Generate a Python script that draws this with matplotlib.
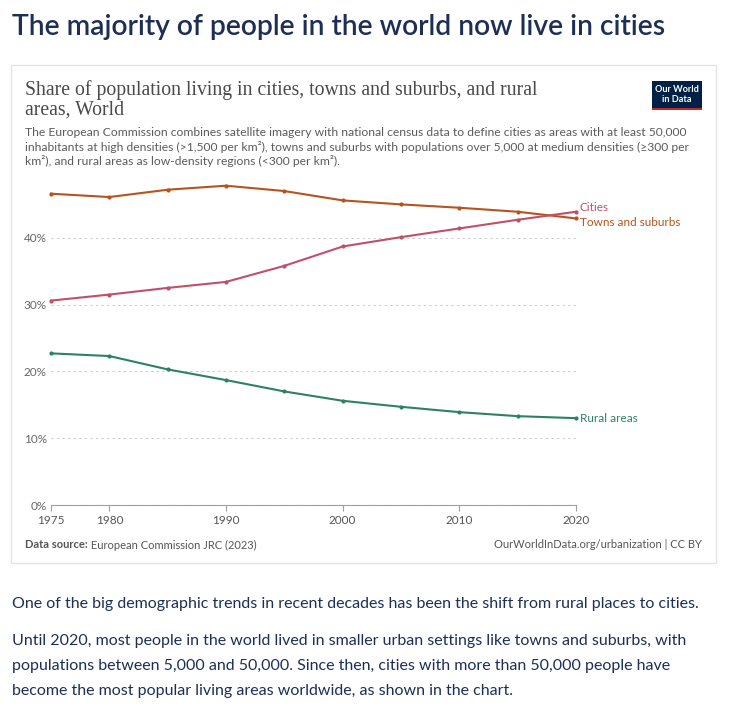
import matplotlib.pyplot as plt
from matplotlib.patches import Rectangle
from matplotlib.ticker import FuncFormatter

years = [1975, 1980, 1985, 1990, 1995, 2000, 2005, 2010, 2015, 2020]
towns = [46.6, 46.1, 47.2, 47.8, 47.0, 45.6, 45.0, 44.5, 43.9, 42.9]
cities = [30.6, 31.5, 32.5, 33.4, 35.8, 38.7, 40.1, 41.4, 42.7, 43.9]
rural = [22.7, 22.3, 20.3, 18.7, 17.0, 15.6, 14.7, 13.9, 13.3, 13.0]

xticks = [1975, 1980, 1990, 2000, 2010, 2020]
yticks = [0, 10, 20, 30, 40]

plt.rcParams['font.family'] = ['Lato', 'DejaVu Sans']

W, H = 732, 714
fig = plt.figure(figsize=(W / 100, H / 100), dpi=100)


def px(x, y):
    return x / W, 1 - y / H


navy = "#1d2f55"
grey = "#5b5b5b"
c_towns = "#b5541c"
c_cities = "#c0506a"
c_rural = "#2d8165"

# page title
fig.text(*px(12, 27), "The majority of people in the world now live in cities",
         fontsize=20.3, color=navy, va="center", ha="left", weight="semibold")

# chart frame
fig.patches.append(Rectangle(px(11, 563), 705 / W, 498 / H, transform=fig.transFigure,
                             fill=False, edgecolor="#e4e4e4", lw=1))

fig.text(*px(25, 90), "Share of population living in cities, towns and suburbs, and rural",
         fontsize=14.2, family="Liberation Serif", color="#4a4a4a", va="center")
fig.text(*px(25, 110), "areas, World",
         fontsize=14.2, family="Liberation Serif", color="#4a4a4a", va="center")
fig.text(*px(25, 133),
         "The European Commission combines satellite imagery with national census data to define cities as areas with at least 50,000",
         fontsize=8.7, color=grey, va="center")
fig.text(*px(25, 147),
         "inhabitants at high densities (>1,500 per km²), towns and suburbs with populations over 5,000 at medium densities (≥300 per",
         fontsize=8.7, color=grey, va="center")
fig.text(*px(25, 161),
         "km²), and rural areas as low-density regions (<300 per km²).",
         fontsize=8.7, color=grey, va="center")

# logo
fig.patches.append(Rectangle(px(652, 109), 50 / W, 28 / H, transform=fig.transFigure,
                             facecolor="#002147", edgecolor="none"))
fig.patches.append(Rectangle(px(652, 110), 50 / W, 2.5 / H, transform=fig.transFigure,
                             facecolor="#ce261e", edgecolor="none"))
fig.text(*px(677, 89), "Our World", fontsize=6.6, color="white", ha="center", va="center",
         weight="bold")
fig.text(*px(677, 99), "in Data", fontsize=6.6, color="white", ha="center", va="center",
         weight="bold")

# plot area
x0, x1 = 51, 576
y0, y1 = 505, 505 - 5 * 66.8
ax = fig.add_axes([x0 / W, 1 - y0 / H, (x1 - x0) / W, (y0 - y1) / H])
ax.plot(years, towns, color=c_towns, lw=1.5, marker="o", ms=2)
ax.plot(years, cities, color=c_cities, lw=1.5, marker="o", ms=2)
ax.plot(years, rural, color=c_rural, lw=1.5, marker="o", ms=2)

ax.text(2020.3, cities[-1] + 0.6, "Cities", color=c_cities, fontsize=8.5, va="center")
ax.text(2020.3, towns[-1] - 0.6, "Towns and suburbs", color=c_towns, fontsize=8.5, va="center")
ax.text(2020.3, rural[-1], "Rural areas", color=c_rural, fontsize=8.5, va="center")

ax.set_xlim(1975, 2020)
ax.set_ylim(0, 50)
ax.set_xticks(xticks)
ax.set_yticks(yticks)
ax.yaxis.set_major_formatter(FuncFormatter(lambda v, p: f"{int(v)}%"))
for s in ["top", "right", "left"]:
    ax.spines[s].set_visible(False)
ax.spines["bottom"].set_color("#a0a0a0")
ax.tick_params(axis="y", length=0, labelsize=8.5, labelcolor="#666666", pad=3)
ax.tick_params(axis="x", length=4, color="#a0a0a0", labelsize=8.5, labelcolor="#555555", pad=3)
ax.grid(axis="y", ls=(0, (2, 3)), color="#cccccc", lw=0.8)
ax.set_axisbelow(True)
for line in ax.lines:
    line.set_clip_on(False)

# footer
src = fig.text(*px(25, 545), "Data source:", fontsize=8, color="#555555", weight="bold",
               va="center")
fig.add_artist(plt.Annotation(" European Commission JRC (2023)", xy=(1, 0.5), xycoords=src,
                              fontsize=8, color="#555555", va="center", ha="left",
                              family=['Lato', 'DejaVu Sans']))
fig.text(*px(702, 545), "OurWorldInData.org/urbanization | CC BY", fontsize=8, color="#555555",
         va="center", ha="right")

# body text
body = "#1d2f55"
fig.text(*px(12, 604), "One of the big demographic trends in recent decades has been the shift from rural places to cities.",
         fontsize=11.5, color=body, va="center")
fig.text(*px(12, 641), "Until 2020, most people in the world lived in smaller urban settings like towns and suburbs, with",
         fontsize=11.5, color=body, va="center")
fig.text(*px(12, 666), "populations between 5,000 and 50,000. Since then, cities with more than 50,000 people have",
         fontsize=11.5, color=body, va="center")
fig.text(*px(12, 691), "become the most popular living areas worldwide, as shown in the chart.",
         fontsize=11.5, color=body, va="center")

fig.savefig("out.png", dpi=100)
